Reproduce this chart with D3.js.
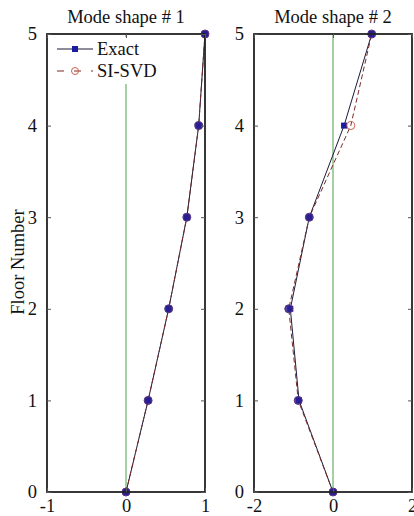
<!DOCTYPE html>
<html>
<head>
<meta charset="utf-8">
<script src="https://cdn.jsdelivr.net/npm/d3@7"></script>
<style>
  body { margin: 0; background: #fff; }
  svg { display: block; }
  text { font-family: "Liberation Serif", "DejaVu Serif", serif; fill: #111; }
</style>
</head>
<body>
<svg id="chart" width="414" height="516"></svg>
<script>
// floors 0..5
const floors = [0, 1, 2, 3, 4, 5];

// mode shape #1
const exact1 = [0, 0.28, 0.54, 0.77, 0.92, 1.0];
const svd1   = [0, 0.28, 0.54, 0.77, 0.92, 1.0];

// mode shape #2
const exact2 = [0, -0.86, -1.08, -0.6, 0.28, 0.98];
const svd2   = [0, -0.88, -1.12, -0.6, 0.45, 0.98];

const titles = ["Mode shape # 1", "Mode shape # 2"];
const xDomains = [[-1, 1], [-2, 2]];
const xTicks = [[-1, 0, 1], [-2, 0, 2]];
const yTicks = [0, 1, 2, 3, 4, 5];
const legendLabels = ["Exact", "SI-SVD"];

const svg = d3.select("#chart");

const panels = [
    {left: 47, right: 205, exact: exact1, svd: svd1},
    {left: 254, right: 412, exact: exact2, svd: svd2}
];
const yTop = 34, yBottom = 492;
const fs = 18.5;

const y = d3.scaleLinear().domain([0, 5]).range([yBottom, yTop]);

const exactColor = "#1c1ca0";
const exactLine = "#1a1a3a";
const svdColor = "#d0604a";
const svdLine = "#7a2a2a";

panels.forEach((p, i) => {
    const x = d3.scaleLinear().domain(xDomains[i]).range([p.left, p.right]);
    const g = svg.append("g");

    // zero line
    g.append("line")
        .attr("x1", x(0)).attr("x2", x(0))
        .attr("y1", y(0)).attr("y2", y(5))
        .attr("stroke", "#86c286")
        .attr("stroke-width", 1.5);

    const line = d3.line().x(d => x(d[0])).y(d => y(d[1]));

    // exact
    g.append("path")
        .datum(p.exact.map((v, k) => [v, floors[k]]))
        .attr("d", line)
        .attr("fill", "none")
        .attr("stroke", exactLine)
        .attr("stroke-width", 1);

    // SI-SVD
    g.append("path")
        .datum(p.svd.map((v, k) => [v, floors[k]]))
        .attr("d", line)
        .attr("fill", "none")
        .attr("stroke", svdLine)
        .attr("stroke-width", 1)
        .attr("stroke-dasharray", "5,3");

    g.selectAll(".sq")
        .data(p.exact.map((v, k) => [v, floors[k]]))
        .join("rect")
        .attr("class", "sq")
        .attr("x", d => x(d[0]) - 3)
        .attr("y", d => y(d[1]) - 3)
        .attr("width", 6).attr("height", 6)
        .attr("fill", exactColor);

    g.selectAll(".ci")
        .data(p.svd.map((v, k) => [v, floors[k]]))
        .join("circle")
        .attr("class", "ci")
        .attr("cx", d => x(d[0]))
        .attr("cy", d => y(d[1]))
        .attr("r", 4)
        .attr("fill", "#2a2090")
        .attr("fill-opacity", (d, k) => (i == 1 && k == 4) ? 0 : 0.85)
        .attr("stroke", (d, k) => (i == 1 && k == 4) ? svdColor : "#5a3080")
        .attr("stroke-width", 1);

    // legend on first panel only
    if (i == 0) {
        const lg = g.append("g");
        lg.append("rect")
            .attr("x", 52).attr("y", 37)
            .attr("width", 110).attr("height", 47)
            .attr("fill", "#fff");
        lg.append("line")
            .attr("x1", 57).attr("x2", 93).attr("y1", 49).attr("y2", 49)
            .attr("stroke", exactLine).attr("stroke-width", 1.1);
        lg.append("rect")
            .attr("x", 72).attr("y", 46).attr("width", 6).attr("height", 6)
            .attr("fill", exactColor);
        lg.append("line")
            .attr("x1", 57).attr("x2", 93).attr("y1", 71).attr("y2", 71)
            .attr("stroke", svdLine).attr("stroke-width", 1.1)
            .attr("stroke-dasharray", "7,10");
        lg.append("circle")
            .attr("cx", 75).attr("cy", 71).attr("r", 3.5)
            .attr("fill", "none").attr("stroke", svdColor);
        legendLabels.forEach((t, k) => {
            lg.append("text")
                .attr("x", 97).attr("y", 55 + k * 22)
                .attr("font-size", fs)
                .text(t);
        });
    }

    // frame
    g.append("rect")
        .attr("x", p.left).attr("y", yTop)
        .attr("width", p.right - p.left).attr("height", yBottom - yTop)
        .attr("fill", "none")
        .attr("stroke", "#222")
        .attr("stroke-width", 1.8);

    // axes
    const ax = g.append("g").attr("transform", `translate(0,${yBottom})`)
        .call(d3.axisBottom(x).tickValues(xTicks[i]).tickSize(-4).tickPadding(7).tickFormat(d => String(d)));
    const axT = g.append("g").attr("transform", `translate(0,${yTop})`)
        .call(d3.axisTop(x).tickValues(xTicks[i]).tickSize(-4).tickFormat(""));
    const ay = g.append("g").attr("transform", `translate(${p.left},0)`)
        .call(d3.axisLeft(y).tickValues(yTicks).tickSize(-4).tickPadding(10).tickFormat(d => String(d)));
    const ayR = g.append("g").attr("transform", `translate(${p.right},0)`)
        .call(d3.axisRight(y).tickValues(yTicks).tickSize(-4).tickFormat(""));

    [ax, axT, ay, ayR].forEach(a => {
        a.select(".domain").remove();
        a.selectAll("line").attr("stroke", "#555");
        a.selectAll("text")
            .attr("font-family", "Liberation Serif, serif")
            .attr("font-size", fs)
            .attr("fill", "#111");
    });

    g.append("text")
        .attr("x", (p.left + p.right) / 2)
        .attr("y", 23)
        .attr("text-anchor", "middle")
        .attr("font-size", fs)
        .text(titles[i]);
});

svg.append("text")
    .attr("transform", "translate(24,262) rotate(-90)")
    .attr("text-anchor", "middle")
    .attr("font-size", fs)
    .text("Floor Number");
</script>
</body>
</html>
